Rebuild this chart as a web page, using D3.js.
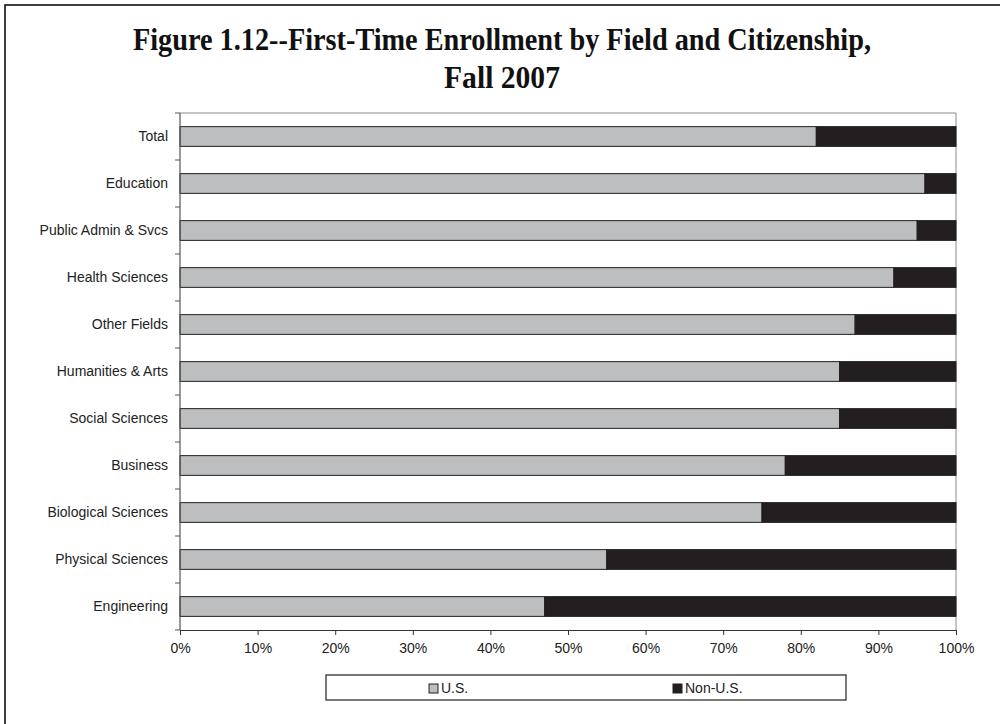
<!DOCTYPE html>
<html>
<head>
<meta charset="utf-8">
<script src="https://cdn.jsdelivr.net/npm/d3@7"></script>
<style>
  html, body { margin: 0; padding: 0; background: #fff; }
  svg { display: block; }
</style>
</head>
<body>
<svg id="chart" width="1000" height="724"></svg>
<script>
// Fields, top to bottom
const fields = [
  "Total", "Education", "Public Admin & Svcs", "Health Sciences", "Other Fields",
  "Humanities & Arts", "Social Sciences", "Business", "Biological Sciences",
  "Physical Sciences", "Engineering"
];
// Share of first-time enrollees who are U.S. citizens / permanent residents (%)
const usShare = [82, 96, 95, 92, 87, 85, 85, 78, 75, 55, 47];
// Share of temporary residents (%)
const nonUsShare = usShare.map(v => 100 - v);
const seriesNames = ["U.S.", "Non-U.S."];
const xTicks = [0, 10, 20, 30, 40, 50, 60, 70, 80, 90, 100];
const titleLines = ["Figure 1.12--First-Time Enrollment by Field and Citizenship,", "Fall 2007"];

const colors = { "U.S.": "#bcbec0", "Non-U.S.": "#231f20" };
const svg = d3.select("#chart");

// Outer frame
svg.append("rect")
  .attr("x", 5).attr("y", 5).attr("width", 1030).attr("height", 740)
  .attr("fill", "none").attr("stroke", "#111").attr("stroke-width", 1.6);

// Title: condensed bold serif, each line fitted to a fixed width
const titleWidths = [738, 116];
svg.append("g").selectAll("text").data(titleLines).join("text")
  .attr("x", 502)
  .attr("y", (d, i) => 50 + i * 38)
  .attr("text-anchor", "middle")
  .attr("font-family", "'Liberation Serif', 'Times New Roman', serif")
  .attr("font-weight", "bold")
  .attr("font-size", 32.5)
  .attr("textLength", (d, i) => titleWidths[i])
  .attr("lengthAdjust", "spacingAndGlyphs")
  .attr("fill", "#111")
  .text(d => d);

const plot = { left: 180, right: 956, top: 113, bottom: 630 };

const x = d3.scaleLinear().domain([0, 100]).range([plot.left, plot.right]);
const y = d3.scaleBand().domain(fields)
  .range([plot.top, plot.bottom])
  .paddingInner(0.58).paddingOuter(0.29);

const rows = fields.map((f, i) => ({ field: f, "U.S.": usShare[i], "Non-U.S.": nonUsShare[i] }));
const stacked = d3.stack().keys(seriesNames)(rows);

// Plot area border (top and right)
svg.append("path")
  .attr("d", `M${plot.left},${plot.top}H${plot.right}V${plot.bottom}`)
  .attr("fill", "none").attr("stroke", "#8a8a8a").attr("stroke-width", 1);

// Stacked bars
svg.append("g").selectAll("g").data(stacked).join("g")
  .attr("fill", d => colors[d.key])
  .selectAll("rect").data(d => d).join("rect")
  .attr("x", d => x(d[0]))
  .attr("y", d => y(d.data.field))
  .attr("width", d => x(d[1]) - x(d[0]))
  .attr("height", y.bandwidth())
  .attr("stroke", "#231f20").attr("stroke-width", 1);

// Category axis
const font = "'Liberation Sans', Arial, sans-serif";
const yAxis = svg.append("g").attr("transform", `translate(${plot.left},0)`);
yAxis.append("line")
  .attr("x1", 0).attr("x2", 0).attr("y1", plot.top).attr("y2", plot.bottom)
  .attr("stroke", "#555").attr("stroke-width", 1.2);
const boundaries = d3.range(fields.length + 1).map(k => plot.top + k * y.step());
yAxis.selectAll("line.tick").data(boundaries).join("line")
  .attr("class", "tick")
  .attr("x1", -5).attr("x2", 0).attr("y1", d => d).attr("y2", d => d)
  .attr("stroke", "#555").attr("stroke-width", 1);
yAxis.selectAll("text").data(fields).join("text")
  .attr("x", -12)
  .attr("y", d => y(d) + y.bandwidth() / 2)
  .attr("dy", "0.35em")
  .attr("text-anchor", "end")
  .attr("font-family", font).attr("font-size", 14).attr("fill", "#222")
  .text(d => d);

// Value axis
const xAxis = svg.append("g")
  .attr("transform", `translate(0,${plot.bottom})`)
  .call(d3.axisBottom(x).tickValues(xTicks).tickFormat(d => d + "%").tickSize(5).tickSizeOuter(0));
xAxis.select(".domain").attr("stroke", "#333").attr("stroke-width", 1.2);
xAxis.selectAll(".tick line").attr("stroke", "#333");
xAxis.selectAll(".tick text")
  .attr("font-family", font).attr("font-size", 14).attr("fill", "#222")
  .attr("y", 13);

// Legend
const legend = svg.append("g");
legend.append("rect")
  .attr("x", 326).attr("y", 675).attr("width", 520).attr("height", 25)
  .attr("fill", "#fff").attr("stroke", "#231f20").attr("stroke-width", 1.2);
const legendX = d3.scalePoint().domain(seriesNames).range([429, 673]);
const items = legend.selectAll("g.item").data(seriesNames).join("g")
  .attr("class", "item")
  .attr("transform", d => `translate(${legendX(d)},684)`);
items.append("rect")
  .attr("width", 9).attr("height", 9)
  .attr("fill", d => colors[d]).attr("stroke", "#231f20").attr("stroke-width", 1);
items.append("text")
  .attr("x", 12).attr("y", 4.5).attr("dy", "0.35em")
  .attr("font-family", font).attr("font-size", 14).attr("fill", "#222")
  .text(d => d);
</script>
</body>
</html>
